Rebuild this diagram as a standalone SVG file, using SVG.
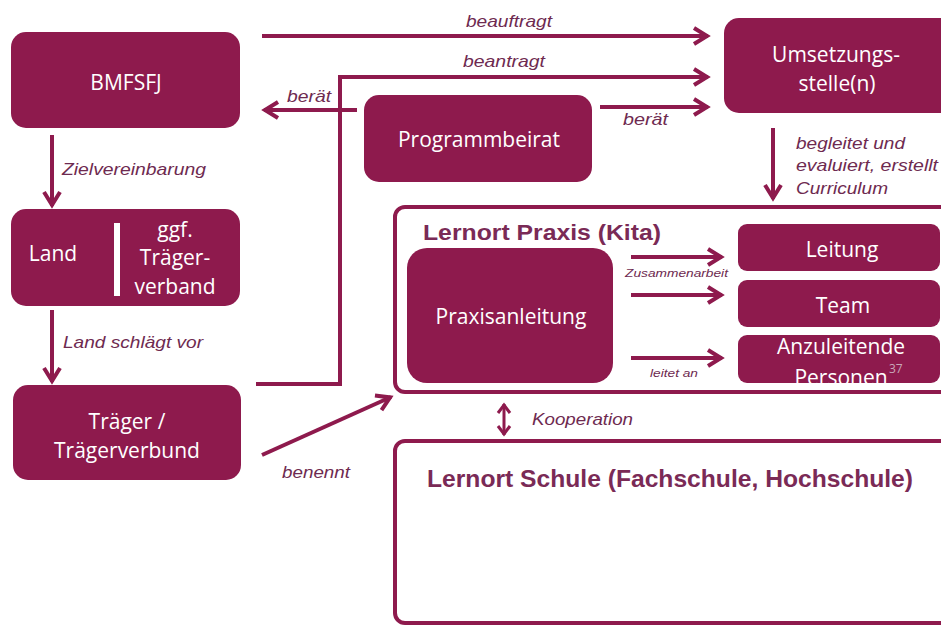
<svg xmlns="http://www.w3.org/2000/svg" width="941" height="626" viewBox="0 0 941 626">
<style>
.box{fill:#8E1A4D;}
.frame{fill:#ffffff;stroke:#8E1A4D;stroke-width:4;}
.bt{font-family:"Open Sans","Noto Sans",sans-serif;font-size:21px;fill:#ffffff;text-anchor:middle;}
.lbl{font-family:"Liberation Sans",Arial,sans-serif;font-style:italic;font-size:17px;fill:#6E2A50;}
.sm{font-family:"Liberation Sans",Arial,sans-serif;font-style:italic;font-size:11px;fill:#6E2A50;}
.hd{font-family:"Liberation Sans",Arial,sans-serif;font-weight:bold;fill:#7A2A56;}
.ln{fill:none;stroke:#8E1A4D;stroke-width:4;}
.arr{marker-end:url(#ah);}
</style>
<defs>
<marker id="ah" markerUnits="userSpaceOnUse" markerWidth="24" markerHeight="24" viewBox="0 0 24 24" refX="19" refY="12" orient="auto">
<path d="M5,4 L18,12 L5,20" fill="none" stroke="#8E1A4D" stroke-width="4"/>
</marker>
<marker id="sh" markerUnits="userSpaceOnUse" markerWidth="16" markerHeight="16" viewBox="0 0 16 16" refX="13" refY="8" orient="auto-start-reverse">
<path d="M4,2 L12,8 L4,14" fill="none" stroke="#8E1A4D" stroke-width="3"/>
</marker>
</defs>
<rect width="941" height="626" fill="#ffffff"/>

<g id="lernort-praxis">
<rect class="frame" x="395" y="207" width="570" height="185" rx="10"/>
<text class="hd" x="423" y="240" font-size="22" textLength="238" lengthAdjust="spacingAndGlyphs">Lernort Praxis (Kita)</text>
</g>
<g id="lernort-schule">
<rect class="frame" x="395" y="441" width="570" height="182" rx="10"/>
<text class="hd" x="427" y="487" font-size="24" textLength="486" lengthAdjust="spacingAndGlyphs">Lernort Schule (Fachschule, Hochschule)</text>
</g>

<g id="bmfsfj">
<rect class="box" x="11" y="32" width="229" height="96" rx="15"/>
<text class="bt" x="126" y="90">BMFSFJ</text>
</g>
<g id="land">
<rect class="box" x="11" y="209" width="229" height="97" rx="15"/>
<text class="bt" x="53" y="261">Land</text>
<rect x="114" y="223" width="6" height="73" fill="#ffffff"/>
<text class="bt" x="175" y="237">ggf.</text>
<text class="bt" x="175" y="265">Träger-</text>
<text class="bt" x="175" y="294">verband</text>
</g>
<g id="traeger">
<rect class="box" x="13" y="385" width="228" height="95" rx="15"/>
<text class="bt" x="127" y="429">Träger /</text>
<text class="bt" x="127" y="458">Trägerverbund</text>
</g>
<g id="programmbeirat">
<rect class="box" x="364" y="95" width="228" height="87" rx="15"/>
<text class="bt" x="479" y="147">Programmbeirat</text>
</g>
<g id="umsetzungsstelle">
<rect class="box" x="724" y="18" width="230" height="95" rx="15"/>
<text class="bt" x="836" y="62">Umsetzungs-</text>
<text class="bt" x="837" y="91">stelle(n)</text>
</g>
<g id="praxisanleitung">
<rect class="box" x="407" y="248" width="206" height="135" rx="20"/>
<text class="bt" x="511" y="324">Praxisanleitung</text>
</g>
<g id="leitung">
<rect class="box" x="738" y="224" width="202" height="47" rx="9"/>
<text class="bt" x="842" y="257">Leitung</text>
</g>
<g id="team">
<rect class="box" x="738" y="280" width="202" height="47" rx="9"/>
<text class="bt" x="843" y="313">Team</text>
</g>
<g id="anzuleitende">
<rect class="box" x="738" y="335" width="202" height="48" rx="9"/>
<text class="bt" x="841" y="354">Anzuleitende</text>
<text class="bt" x="841" y="385">Personen</text>
<text x="889" y="373" font-family="'Open Sans',sans-serif" font-size="12" fill="#C9A6B8">37</text>
</g>

<g id="connectors">
<path class="ln arr" d="M262,36 L708,36"/>
<path class="ln arr" d="M256,384 L340,384 L340,77 L708,77"/>
<path class="ln arr" d="M357,110 L264,110"/>
<path class="ln arr" d="M600,107 L708,107"/>
<path class="ln arr" d="M773,128 L773,199"/>
<path class="ln arr" d="M52,135 L52,206"/>
<path class="ln arr" d="M52,310 L52,382"/>
<path class="ln arr" d="M262,455 L391,397"/>
<path class="ln arr" d="M631,257 L722,257"/>
<path class="ln arr" d="M631,295 L722,295"/>
<path class="ln arr" d="M631,358 L722,358"/>
<path d="M504,404 L504,435" fill="none" stroke="#8E1A4D" stroke-width="3" marker-start="url(#sh)" marker-end="url(#sh)"/>
<text class="lbl" x="466" y="27" textLength="86" lengthAdjust="spacingAndGlyphs">beauftragt</text>
<text class="lbl" x="463" y="67" textLength="82" lengthAdjust="spacingAndGlyphs">beantragt</text>
<text class="lbl" x="287" y="102" textLength="44" lengthAdjust="spacingAndGlyphs">berät</text>
<text class="lbl" x="623" y="125" textLength="45" lengthAdjust="spacingAndGlyphs">berät</text>
<text class="lbl" x="796" y="149" textLength="109" lengthAdjust="spacingAndGlyphs">begleitet und</text>
<text class="lbl" x="796" y="171" textLength="142" lengthAdjust="spacingAndGlyphs">evaluiert, erstellt</text>
<text class="lbl" x="796" y="194" textLength="92" lengthAdjust="spacingAndGlyphs">Curriculum</text>
<text class="lbl" x="62" y="175" textLength="144" lengthAdjust="spacingAndGlyphs">Zielvereinbarung</text>
<text class="lbl" x="63" y="348" textLength="140" lengthAdjust="spacingAndGlyphs">Land schlägt vor</text>
<text class="lbl" x="282" y="478" textLength="68" lengthAdjust="spacingAndGlyphs">benennt</text>
<text class="lbl" x="532" y="425" textLength="101" lengthAdjust="spacingAndGlyphs">Kooperation</text>
<text class="sm" x="625" y="277" textLength="103" lengthAdjust="spacingAndGlyphs">Zusammenarbeit</text>
<text class="sm" x="650" y="377" textLength="48" lengthAdjust="spacingAndGlyphs">leitet an</text>
</g>
</svg>
